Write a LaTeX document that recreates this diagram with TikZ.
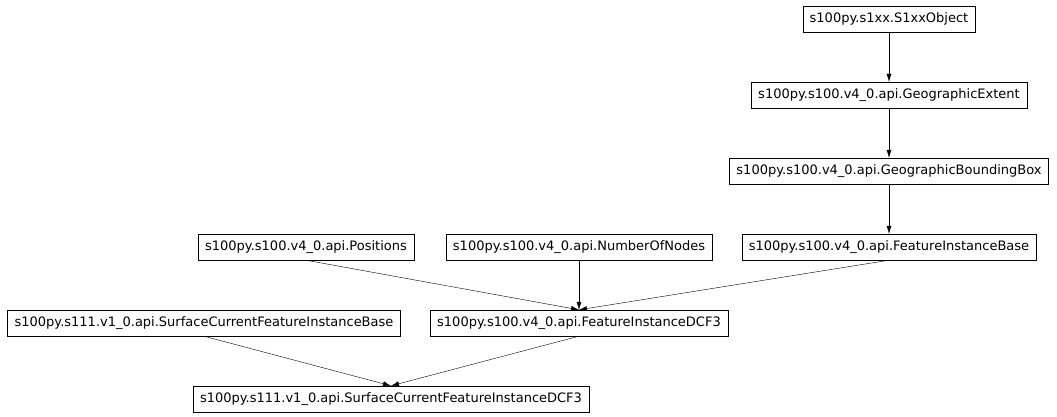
\documentclass[tikz,border=0pt]{standalone}
\usepackage{fontspec}
\setmainfont{DejaVu Sans}
\usetikzlibrary{arrows.meta}

\begin{document}
\begin{tikzpicture}[x=1pt,y=-1pt,
    cnode/.style={draw,rectangle,thin,minimum height=26pt,inner xsep=7pt,font=\fontsize{13}{15}\selectfont},
    inh/.style={-{Latex[length=8pt,width=5pt]},thin}]
    \useasboundingbox (0,0) rectangle (1057,417);
    \node[cnode] (obj) at (889,19) {s100py.s1xx.S1xxObject};
    \node[cnode] (ext) at (889,95) {s100py.s100.v4\_0.api.GeographicExtent};
    \node[cnode] (bbox) at (889,171) {s100py.s100.v4\_0.api.GeographicBoundingBox};
    \node[cnode] (pos) at (306,247) {s100py.s100.v4\_0.api.Positions};
    \node[cnode] (non) at (579,247) {s100py.s100.v4\_0.api.NumberOfNodes};
    \node[cnode] (fib) at (889,247) {s100py.s100.v4\_0.api.FeatureInstanceBase};
    \node[cnode] (scb) at (204,323) {s100py.s111.v1\_0.api.SurfaceCurrentFeatureInstanceBase};
    \node[cnode] (dcf) at (579,323) {s100py.s100.v4\_0.api.FeatureInstanceDCF3};
    \node[cnode] (scd) at (391,399) {s100py.s111.v1\_0.api.SurfaceCurrentFeatureInstanceDCF3};

    \draw[inh] (obj) -- (ext);
    \draw[inh] (ext) -- (bbox);
    \draw[inh] (bbox) -- (fib);
    \draw[inh] (pos.south) -- (dcf.north);
    \draw[inh] (non) -- (dcf);
    \draw[inh] (fib.south) -- (dcf.north);
    \draw[inh] (scb.south) -- (scd.north);
    \draw[inh] (dcf.south) -- (scd.north);
\end{tikzpicture}
\end{document}
